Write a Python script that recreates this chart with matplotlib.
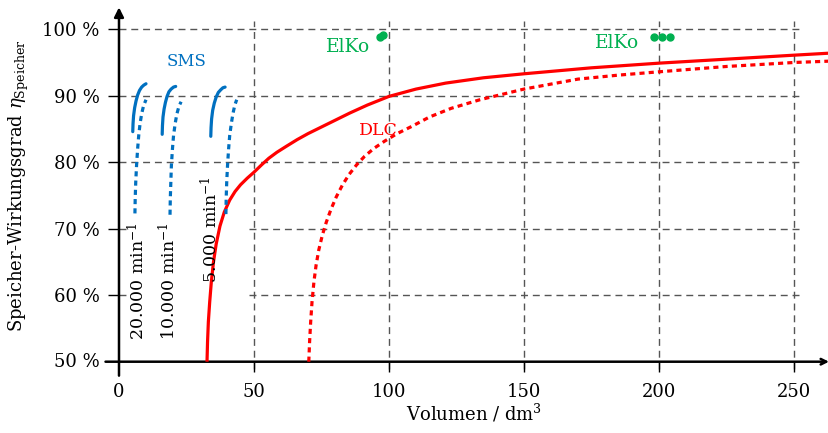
import matplotlib
matplotlib.use("Agg")
import matplotlib.pyplot as plt

# ---------------- data ----------------
x_ticks = [0, 50, 100, 150, 200, 250]
y_ticks = [50, 60, 70, 80, 90, 100]
y_tick_labels = ["50 %", "60 %", "70 %", "80 %", "90 %", "100 %"]

# DLC (solid / dotted)
dlc_solid_x = [32.6, 32.8, 33.1, 33.6, 34.2, 35.0, 36.0, 37.4, 39.0, 41.0, 43.0, 45.0, 47.5, 50.0, 52.8, 55.5, 58.5, 62.0,
               66.0, 70.0, 75.0, 80.0, 85.5, 92.0, 100.0, 110.0, 121.0, 135.0, 150.0, 175.0, 200.0, 225.0, 250.0, 263.0]
dlc_solid_y = [50.0, 53.0, 56.0, 59.0, 62.0, 65.0, 67.7, 70.4, 72.5, 74.3, 75.6, 76.6, 77.6, 78.5, 79.6, 80.6, 81.5, 82.4,
               83.4, 84.3, 85.3, 86.3, 87.4, 88.6, 89.9, 91.0, 91.9, 92.7, 93.3, 94.2, 94.9, 95.5, 96.1, 96.4]
dlc_dot_x = [70.3, 70.6, 71.0, 71.5, 72.2, 73.0, 74.0, 75.3, 76.8, 78.5, 80.5, 82.8, 85.3, 88.0, 91.0, 94.5, 98.5, 103.0,
             108.5, 115.0, 123.0, 133.7, 150.0, 170.0, 185.0, 200.0, 225.0, 250.0, 263.0]
dlc_dot_y = [50.0, 53.0, 56.0, 59.0, 62.0, 64.5, 66.8, 69.0, 71.0, 72.9, 74.8, 76.6, 78.2, 79.6, 80.9, 82.1, 83.2, 84.3,
             85.4, 86.8, 88.1, 89.4, 91.0, 92.5, 93.1, 93.6, 94.4, 95.0, 95.2]

# SMS at 20.000 / 10.000 / 5.000 min^-1 (solid / dotted)
sms20_solid_x = [5.1, 5.2, 5.4, 5.8, 6.3, 6.9, 7.6, 8.4, 9.2, 10.0]
sms20_solid_y = [84.6, 85.8, 87.0, 88.2, 89.2, 90.1, 90.8, 91.3, 91.6, 91.8]
sms20_dot_x = [5.9, 6.0, 6.2, 6.5, 6.9, 7.3, 7.8, 8.4, 9.1, 10.0]
sms20_dot_y = [72.3, 74.5, 77.0, 79.5, 82.0, 84.0, 85.8, 87.3, 88.5, 89.4]
sms10_solid_x = [16.0, 16.1, 16.3, 16.7, 17.2, 17.8, 18.5, 19.3, 20.2, 21.0]
sms10_solid_y = [84.2, 85.5, 86.8, 88.0, 89.0, 89.9, 90.6, 91.0, 91.3, 91.4]
sms10_dot_x = [18.9, 19.0, 19.2, 19.4, 19.8, 20.2, 20.8, 21.4, 22.2, 23.0]
sms10_dot_y = [72.1, 74.5, 77.0, 79.5, 82.0, 84.0, 85.8, 87.2, 88.4, 89.1]
sms5_solid_x = [34.0, 34.1, 34.3, 34.7, 35.3, 36.0, 36.8, 37.7, 38.5, 39.3]
sms5_solid_y = [83.9, 85.2, 86.5, 87.8, 88.9, 89.8, 90.5, 90.9, 91.2, 91.3]
sms5_dot_x = [39.6, 39.7, 39.9, 40.2, 40.6, 41.0, 41.6, 42.2, 42.9, 43.6]
sms5_dot_y = [72.2, 74.5, 77.0, 79.5, 82.0, 84.0, 85.8, 87.3, 88.6, 89.4]

# ElKo points
elko_x = [96.6, 97.8, 198.1, 201.0, 204.0]
elko_y = [98.9, 99.1, 98.8, 98.9, 98.9]

# ---------------- style ----------------
RED = "#FF0000"
BLUE = "#0070C0"
GREEN = "#00B050"
GRID = "#555555"
FONT = "DejaVu Serif"
plt.rcParams["font.family"] = FONT
plt.rcParams["mathtext.fontset"] = "dejavuserif"

fig = plt.figure(figsize=(8.29, 4.33), dpi=100)
ax = fig.add_axes([119 / 829, (433 - 361.7) / 433, 710 / 829, 352.4 / 433])
ax.set_xlim(0, 263)
ax.set_ylim(50, 103)
for s in ax.spines.values():
    s.set_visible(False)

# grid
dash = (0, (5, 3.5))
for yv in [100, 90, 80]:
    ax.plot([0, 252], [yv, yv], color=GRID, lw=1.0, ls=dash, zorder=1, clip_on=False)
for yv in [70, 60]:
    ax.plot([0, 2.5], [yv, yv], color=GRID, lw=1.0, ls=dash, zorder=1, clip_on=False)
    ax.plot([48, 252], [yv, yv], color=GRID, lw=1.0, ls=dash, zorder=1, clip_on=False)
for xv in x_ticks[1:]:
    ax.plot([xv, xv], [48.9, 101.2], color=GRID, lw=1.0, ls=dash, zorder=1, clip_on=False)

# axes lines with arrows
ax.annotate("", xy=(263, 50), xytext=(-5, 50), xycoords="data",
            arrowprops=dict(arrowstyle="->", lw=1.8, color="black", shrinkA=0, shrinkB=0), annotation_clip=False)
ax.annotate("", xy=(0, 103.3), xytext=(0, 47.9), xycoords="data",
            arrowprops=dict(arrowstyle="-|>", lw=1.8, color="black", shrinkA=0, shrinkB=0,
                            mutation_scale=14), annotation_clip=False)

# ticks
ax.set_xticks(x_ticks)
ax.set_xticklabels([str(v) for v in x_ticks])
ax.set_yticks(y_ticks[1:])
ax.set_yticklabels(y_tick_labels[1:])
ax.tick_params(axis="x", length=7, width=1, pad=8, labelsize=13)
ax.tick_params(axis="y", length=8, width=1, pad=6, labelsize=13)
ax.text(-7, 50, y_tick_labels[0], ha="right", va="center", fontsize=13)
ax.xaxis.get_major_ticks()[0].tick1line.set_visible(False)

# curves
lw_s = 2.3
dot = (0, (1.6, 1.3))
ax.plot(dlc_solid_x, dlc_solid_y, color=RED, lw=lw_s, zorder=3, solid_capstyle="butt", solid_joinstyle="round")
ax.plot(dlc_dot_x, dlc_dot_y, color=RED, lw=lw_s, ls=dot, zorder=3)
for sx, sy, dx, dy in [(sms20_solid_x, sms20_solid_y, sms20_dot_x, sms20_dot_y),
                       (sms10_solid_x, sms10_solid_y, sms10_dot_x, sms10_dot_y),
                       (sms5_solid_x, sms5_solid_y, sms5_dot_x, sms5_dot_y)]:
    ax.plot(sx, sy, color=BLUE, lw=lw_s, zorder=3, solid_capstyle="round", solid_joinstyle="round")
    ax.plot(dx, dy, color=BLUE, lw=lw_s, ls=dot, zorder=3)

ax.plot(elko_x, elko_y, "o", color=GREEN, ms=5, zorder=4, clip_on=False)

# labels
ax.text(25, 95.2, "SMS", color=BLUE, fontsize=12, ha="center", va="center")
ax.text(85, 97.3, "ElKo", color=GREEN, fontsize=13.5, ha="center", va="center")
ax.text(184.5, 98.0, "ElKo", color=GREEN, fontsize=13.5, ha="center", va="center")
ax.text(96, 84.8, "DLC", color=RED, fontsize=12.5, ha="center", va="center")
ax.text(7.0, 62.2, "20.000 min$^{-1}$", rotation=90, fontsize=12.5, ha="center", va="center")
ax.text(18.3, 62.2, "10.000 min$^{-1}$", rotation=90, fontsize=12.5, ha="center", va="center")
ax.text(33.8, 69.8, "5.000 min$^{-1}$", rotation=90, fontsize=12.5, ha="center", va="center")

ax.set_xlabel("Volumen / dm$^3$", fontsize=13, labelpad=1)
ax.set_ylabel("Speicher-Wirkungsgrad $\\eta_{\\mathrm{Speicher}}$", fontsize=13, labelpad=8)

fig.savefig("out.png", dpi=100)
